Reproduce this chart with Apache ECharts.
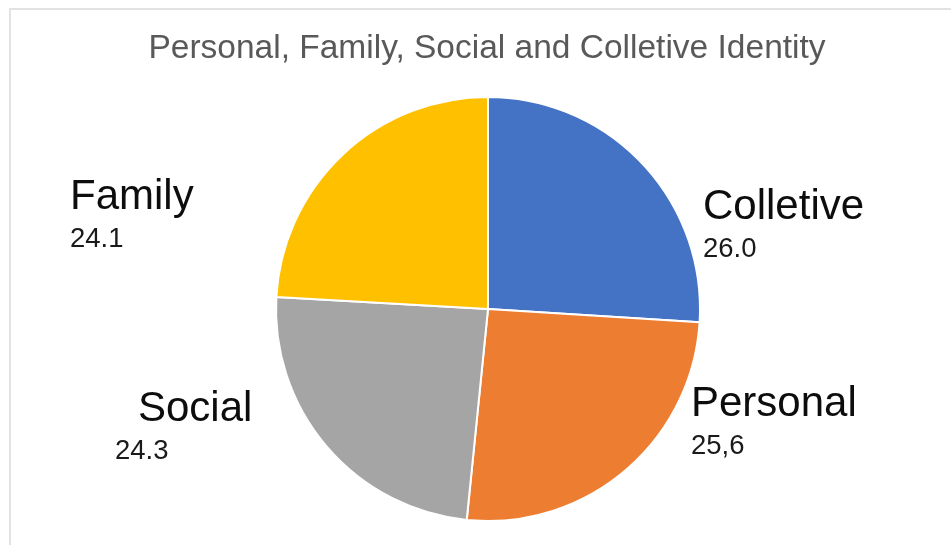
<!DOCTYPE html>
<html>
<head>
<meta charset="utf-8">
<script src="https://cdn.jsdelivr.net/npm/echarts@6/dist/echarts.min.js"></script>
<style>
html,body{margin:0;padding:0;background:#fff;}
#chart{width:951px;height:545px;}
</style>
</head>
<body>
<div id="chart"></div>
<script>
var titleText = 'Personal, Family, Social and Colletive Identity';
var categories = ['Colletive', 'Personal', 'Social', 'Family'];
var values = [26.0, 25.6, 24.3, 24.1];
var valueLabels = ['26.0', '25,6', '24.3', '24.1'];
var colors = ['#4472C4', '#ED7D31', '#A5A5A5', '#FFC000'];

// label placement (layout only)
var labelPos = [
  { x: 703, y: 182, indent: 0 },
  { x: 691, y: 379, indent: 0 },
  { x: 115, y: 384, indent: 23 },
  { x: 70,  y: 172, indent: 0 }
];

var chart = echarts.init(document.getElementById('chart'), null, { renderer: 'canvas' });

var data = categories.map(function (c, i) {
  return { name: c, value: values[i], itemStyle: { color: colors[i] } };
});

chart.setOption({
  backgroundColor: '#ffffff',
  animation: false,
  title: {
    text: titleText,
    left: 482,
    textAlign: 'center',
    top: 27,
    textStyle: {
      fontFamily: 'Liberation Sans, Arial, sans-serif',
      fontSize: 33.5,
      fontWeight: 'normal',
      color: '#595959'
    }
  },
  graphic: [{
    type: 'polyline',
    shape: { points: [[10, 560], [10, 9], [960, 9]] },
    style: { fill: null, stroke: '#e2e2e2', lineWidth: 2 },
    silent: true
  }],
  series: [{
    type: 'pie',
    center: [488, 309],
    radius: 212,
    startAngle: 90,
    clockwise: true,
    data: data,
    itemStyle: { borderColor: '#ffffff', borderWidth: 2 },
    labelLine: { show: false },
    label: {
      show: true,
      position: 'outside',
      formatter: function (p) {
        var ind = labelPos[p.dataIndex].indent;
        return (ind ? '{pad|}' : '') + '{name|' + p.name + '}\n{val|' + valueLabels[p.dataIndex] + '}';
      },
      rich: {
        pad: { width: 23, height: 50 },
        name: {
          fontFamily: 'Liberation Sans, Arial, sans-serif',
          fontSize: 42,
          lineHeight: 50,
          color: '#0d0d0d'
        },
        val: {
          fontFamily: 'Liberation Sans, Arial, sans-serif',
          fontSize: 27.5,
          lineHeight: 35,
          color: '#1a1a1a'
        }
      }
    },
    labelLayout: function (params) {
      var p = labelPos[params.dataIndex];
      return { x: p.x, y: p.y, align: 'left', verticalAlign: 'top', hideOverlap: false, moveOverlap: false };
    }
  }]
});
</script>
</body>
</html>
